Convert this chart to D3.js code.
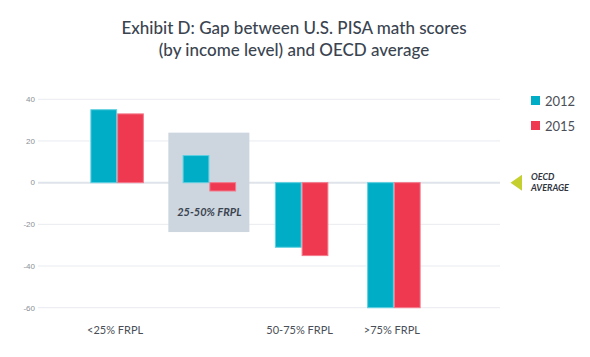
<!DOCTYPE html>
<html><head><meta charset="utf-8">
<script src="https://cdn.jsdelivr.net/npm/d3@7"></script>
<style>body{margin:0;background:#fff}svg{display:block}</style>
</head><body>
<svg id="c" width="590" height="357"></svg>
<script>
const categories = ["<25% FRPL", "25-50% FRPL", "50-75% FRPL", ">75% FRPL"];
const series = ["2012", "2015"];
const values2012 = [35, 13, -31, -60];
const values2015 = [33, -4, -35, -60];
const yTicks = [40, 20, 0, -20, -40, -60];
const colors = ["#00adc6", "#ee3951"];
const highlighted = "25-50% FRPL";

const svg = d3.select("#c");
const font = "Lato, 'Open Sans', sans-serif";

// title
const title = svg.append("text").attr("text-anchor", "middle").attr("font-family", font)
  .attr("font-size", 17).attr("font-weight", 500).attr("fill", "#3a4450");
title.append("tspan").attr("x", 294).attr("y", 34).text("Exhibit D: Gap between U.S. PISA math scores");
title.append("tspan").attr("x", 294).attr("y", 56).text("(by income level) and OECD average");

const y = d3.scaleLinear().domain([-60, 40]).range([307.7, 99.3]);
const x = d3.scaleBand().domain(categories).range([71, 440]).paddingInner(0.42).paddingOuter(0.21);
const xs = d3.scaleBand().domain(series).range([0, x.bandwidth()]);

// gridlines
svg.append("g").selectAll("line").data(yTicks).join("line")
  .attr("x1", 38).attr("x2", 500)
  .attr("y1", d => y(d)).attr("y2", d => y(d))
  .attr("stroke", d => d === 0 ? "#dfe3ea" : "#e9ebf0")
  .attr("stroke-width", d => d === 0 ? 2 : 1);

// y tick labels
svg.append("g").selectAll("text").data(yTicks).join("text")
  .attr("x", 35).attr("y", d => y(d)).attr("dy", "0.35em")
  .attr("text-anchor", "end").attr("font-family", "'Liberation Sans', Arial, sans-serif")
  .attr("font-size", 8).attr("fill", "#8a8f96").text(d => d);

// highlight box
const hc = x(highlighted) + x.bandwidth() / 2;
svg.append("rect").attr("x", hc - 41).attr("width", 81)
  .attr("y", y(24)).attr("height", y(-23.7) - y(24)).attr("fill", "#cdd5df");

// bars
const data = categories.map((c, i) => ({c, v: [values2012[i], values2015[i]]}));
const g = svg.append("g").selectAll("g").data(data).join("g")
  .attr("transform", d => `translate(${x(d.c)},0)`);
g.selectAll("rect").data(d => d.v.map((v, j) => ({s: series[j], v, j}))).join("rect")
  .attr("x", d => xs(d.s) + 0.5).attr("width", xs.bandwidth() - 1)
  .attr("y", d => y(Math.max(0, d.v))).attr("height", d => Math.abs(y(d.v) - y(0)))
  .attr("fill", d => colors[d.j])
  .attr("stroke", d => d.j === 0 ? "#5cd0e0" : "#f47a8a").attr("stroke-width", 1);

// highlight label
svg.append("text").attr("x", hc).attr("y", 216).attr("text-anchor", "middle")
  .attr("font-family", font).attr("font-weight", "bold").attr("font-style", "italic")
  .attr("font-size", 11).attr("fill", "#3a4450").text(highlighted);

// x labels
svg.append("g").selectAll("text").data(categories.filter(c => c !== highlighted)).join("text")
  .attr("x", d => x(d) + x.bandwidth() / 2 - 2).attr("y", 334)
  .attr("text-anchor", "middle").attr("font-family", font)
  .attr("font-size", 11).attr("fill", "#4a4f57").text(d => d);

// legend
const lg = svg.append("g").selectAll("g").data(series).join("g")
  .attr("transform", (d, i) => `translate(531,${101 + i * 25})`);
lg.append("rect").attr("x", 0).attr("y", -5).attr("width", 9).attr("height", 9)
  .attr("fill", (d, i) => colors[i]);
lg.append("text").attr("x", 14).attr("y", 0).attr("dy", "0.35em")
  .attr("font-family", font).attr("font-size", 13).attr("fill", "#4a4f57").text(d => d);

// OECD average marker
const yz = y(0);
svg.append("path").attr("d", `M510.5,${yz} L522,${yz - 8} L522,${yz + 8} Z`).attr("fill", "#c5d02f");
const ot = svg.append("text").attr("font-family", font).attr("font-weight", "bold")
  .attr("font-style", "italic").attr("font-size", 9).attr("fill", "#2f3540");
ot.append("tspan").attr("x", 531).attr("y", yz - 3).text("OECD");
ot.append("tspan").attr("x", 531).attr("y", yz + 8).text("AVERAGE");
</script>
</body></html>
